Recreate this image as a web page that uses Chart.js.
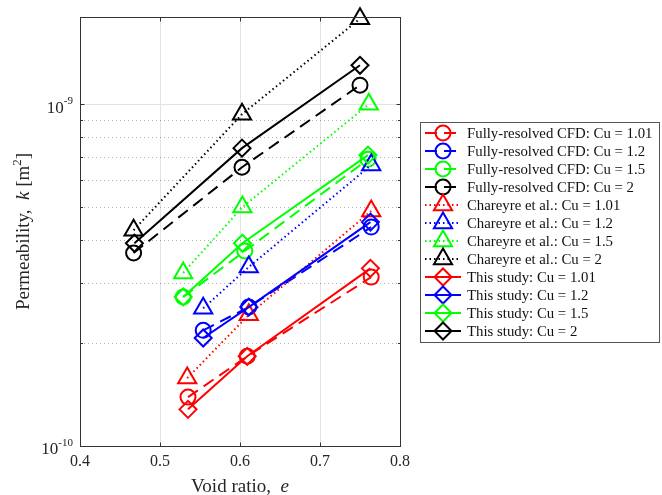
<!DOCTYPE html>
<html>
<head>
<meta charset="utf-8">
<script src="https://cdn.jsdelivr.net/npm/chart.js@4.4.0/dist/chart.umd.min.js"></script>
<style>
  html, body { margin: 0; padding: 0; background: #fff; }
  #wrap { width: 662px; height: 495px; }
</style>
</head>
<body>
<div id="wrap"><canvas id="permChart"></canvas></div>
<script>
// uniformity coefficients, in legend order
const cuLabels = ['1.01', '1.2', '1.5', '2'];

// void ratio e / permeability k [m2], one row per Cu
const cfdVoid = [[0.535, 0.609, 0.764], [0.554, 0.611, 0.764], [0.529, 0.606, 0.760], [0.467, 0.6025, 0.750]];
const cfdPerm = [[1.39e-10, 1.83e-10, 3.12e-10], [2.18e-10, 2.55e-10, 4.37e-10], [2.73e-10, 3.72e-10, 6.90e-10], [3.67e-10, 6.54e-10, 1.137e-9]];

const chareyreVoid = [[0.534, 0.611, 0.764], [0.554, 0.611, 0.764], [0.529, 0.603, 0.761], [0.467, 0.6025, 0.750]];
const chareyrePerm = [[1.58e-10, 2.42e-10, 4.87e-10], [2.53e-10, 3.34e-10, 6.64e-10], [3.21e-10, 5.00e-10, 1.00e-9], [4.28e-10, 9.35e-10, 1.78e-9]];

const studyVoid = [[0.535, 0.609, 0.763], [0.554, 0.611, 0.763], [0.529, 0.603, 0.760], [0.468, 0.6025, 0.750]];
const studyPerm = [[1.28e-10, 1.83e-10, 3.31e-10], [2.07e-10, 2.55e-10, 4.52e-10], [2.73e-10, 3.92e-10, 7.10e-10], [3.92e-10, 7.44e-10, 1.30e-9]];

// axes
const xTickValues = [0.4, 0.5, 0.6, 0.7, 0.8];
const xTickLabels = ['0.4', '0.5', '0.6', '0.7', '0.8'];
const yDecadeValues = [1e-10, 1e-9];
const yDecadeExponents = ['-10', '-9'];
const yMinorTicks = [2e-10, 3e-10, 4e-10, 5e-10, 6e-10, 7e-10, 8e-10, 9e-10];

const cuColors = ['#ff0000', '#0000ff', '#00ff00', '#000000'];
const serif = '"Liberation Serif", "Times New Roman", serif';

function makeSet(label, xs, ys, color, dash, style, radius) {
    return {
        label: label,
        data: xs.map((e, i) => ({ x: e, y: ys[i] })),
        borderColor: color,
        backgroundColor: 'rgba(0,0,0,0)',
        borderWidth: 2,
        borderDash: dash,
        pointStyle: style,
        pointRadius: radius,
        pointHoverRadius: radius,
        pointBorderWidth: 2,
        pointBorderColor: color,
        pointBackgroundColor: 'rgba(0,0,0,0)',
        fill: false,
        tension: 0,
        clip: false
    };
}

const datasets = [];
cuLabels.forEach((cu, i) => datasets.push(makeSet('Fully-resolved CFD: Cu = ' + cu, cfdVoid[i], cfdPerm[i], cuColors[i], [12, 7], 'circle', 7.5)));
cuLabels.forEach((cu, i) => datasets.push(makeSet('Chareyre et al.: Cu = ' + cu, chareyreVoid[i], chareyrePerm[i], cuColors[i], [1.5, 3], 'triangle', 10.5)));
cuLabels.forEach((cu, i) => datasets.push(makeSet('This study: Cu = ' + cu, studyVoid[i], studyPerm[i], cuColors[i], [], 'rectRot', 8.5)));
datasets.forEach((d, i) => { d.order = datasets.length - i; });

function hline(ctx, x1, x2, y) { ctx.beginPath(); ctx.moveTo(x1, y); ctx.lineTo(x2, y); ctx.stroke(); }
function vline(ctx, x, y1, y2) { ctx.beginPath(); ctx.moveTo(x, y1); ctx.lineTo(x, y2); ctx.stroke(); }

// grid, box, ticks and axis texts the MATLAB way
const axesFrame = {
    id: 'axesFrame',
    beforeDatasetsDraw(chart) {
        const { ctx, chartArea: a, scales: { x, y } } = chart;
        ctx.save();
        ctx.lineWidth = 1;
        ctx.strokeStyle = '#e3e3e3';
        xTickValues.slice(1, -1).forEach(v => vline(ctx, Math.round(x.getPixelForValue(v)) + 0.5, a.top, a.bottom));
        yDecadeValues.forEach(v => {
            const py = Math.round(y.getPixelForValue(v)) + 0.5;
            if (py > a.top + 1 && py < a.bottom - 1) hline(ctx, a.left, a.right, py);
        });
        ctx.strokeStyle = 'rgba(0,0,0,0.3)';
        ctx.setLineDash([1, 3]);
        yMinorTicks.forEach(v => hline(ctx, a.left, a.right, Math.round(y.getPixelForValue(v)) + 0.5));
        ctx.restore();
    },
    afterDatasetsDraw(chart) {
        const { ctx, chartArea: a, scales: { x, y } } = chart;
        ctx.save();
        ctx.strokeStyle = '#333';
        ctx.lineWidth = 1;
        const L = Math.round(a.left) + 0.5, R = Math.round(a.right) + 0.5;
        const T = Math.round(a.top) + 0.5, B = Math.round(a.bottom) + 0.5;
        ctx.strokeRect(L, T, R - L, B - T);
        // inward ticks on all four sides
        xTickValues.forEach(v => {
            const px = Math.round(x.getPixelForValue(v)) + 0.5;
            vline(ctx, px, B, B - 4);
            vline(ctx, px, T, T + 4);
        });
        yDecadeValues.forEach(v => {
            const py = Math.round(y.getPixelForValue(v)) + 0.5;
            hline(ctx, L, L + 4, py);
            hline(ctx, R, R - 4, py);
        });
        yMinorTicks.forEach(v => {
            const py = Math.round(y.getPixelForValue(v)) + 0.5;
            hline(ctx, L, L + 2.5, py);
            hline(ctx, R, R - 2.5, py);
        });

        ctx.fillStyle = '#262626';
        ctx.textBaseline = 'middle';
        ctx.textAlign = 'center';
        ctx.font = '16px ' + serif;
        xTickValues.forEach((v, i) => ctx.fillText(xTickLabels[i], x.getPixelForValue(v), a.bottom + 16));

        yDecadeValues.forEach((v, i) => {
            const py = y.getPixelForValue(v);
            ctx.font = '11px ' + serif;
            const supW = ctx.measureText(yDecadeExponents[i]).width;
            ctx.textAlign = 'left';
            ctx.fillText(yDecadeExponents[i], a.left - 7 - supW, py - 3);
            ctx.font = '17px ' + serif;
            ctx.textAlign = 'right';
            ctx.fillText('10', a.left - 7 - supW, py + 4);
        });

        // x title
        ctx.textBaseline = 'alphabetic';
        ctx.textAlign = 'left';
        const xt1 = 'Void ratio,  ';
        ctx.font = 'italic 19px ' + serif;
        const xt2W = ctx.measureText('e').width;
        ctx.font = '19px ' + serif;
        const xt1W = ctx.measureText(xt1).width;
        const xMid = (a.left + a.right) / 2;
        const sx = xMid - (xt1W + xt2W) / 2;
        ctx.fillText(xt1, sx, 492);
        ctx.font = 'italic 19px ' + serif;
        ctx.fillText('e', sx + xt1W, 492);

        // y title, rotated
        const parts = [
            { t: 'Permeability,  ', f: '19px ', dy: 0 },
            { t: 'k', f: 'italic 19px ', dy: 0 },
            { t: ' [m', f: '19px ', dy: 0 },
            { t: '2', f: '13px ', dy: -8 },
            { t: ']', f: '19px ', dy: 0 }
        ];
        let total = 0;
        parts.forEach(p => { ctx.font = p.f + serif; p.w = ctx.measureText(p.t).width; total += p.w; });
        ctx.translate(29, (a.top + a.bottom) / 2);
        ctx.rotate(-Math.PI / 2);
        let cx = -total / 2;
        parts.forEach(p => { ctx.font = p.f + serif; ctx.fillText(p.t, cx, p.dy); cx += p.w; });
        ctx.restore();
    },
    afterDraw(chart) {
        const ctx = chart.ctx;
        const boxL = 420.5, boxT = 122.5, boxR = 659.5, boxB = 342.5;
        ctx.save();
        ctx.fillStyle = '#fff';
        ctx.fillRect(boxL, boxT, boxR - boxL, boxB - boxT);
        ctx.strokeStyle = '#555';
        ctx.lineWidth = 1;
        ctx.strokeRect(boxL, boxT, boxR - boxL, boxB - boxT);
        chart.data.datasets.forEach((d, i) => {
            const yy = 133 + 18 * i;
            ctx.strokeStyle = d.borderColor;
            ctx.lineWidth = d.borderWidth;
            ctx.setLineDash(d.borderDash);
            hline(ctx, 425, 461, yy);
            ctx.setLineDash([]);
            ctx.fillStyle = 'rgba(0,0,0,0)';
            ctx.lineWidth = d.pointBorderWidth;
            Chart.helpers.drawPoint(ctx, { pointStyle: d.pointStyle, radius: d.pointRadius, rotation: 0, borderWidth: d.pointBorderWidth }, 443, yy);
            ctx.fillStyle = '#111';
            ctx.font = '14.8px ' + serif;
            ctx.textBaseline = 'middle';
            ctx.textAlign = 'left';
            ctx.fillText(d.label, 467, yy + 1);
        });
        ctx.restore();
    }
};

new Chart(document.getElementById('permChart'), {
    type: 'line',
    data: { datasets: datasets },
    options: {
        responsive: true,
        maintainAspectRatio: false,
        animation: false,
        layout: { padding: { left: 80, top: 17, right: 262, bottom: 49 } },
        plugins: { legend: { display: false }, tooltip: { enabled: false } },
        scales: {
            x: { type: 'linear', min: 0.4, max: 0.8, display: false },
            y: { type: 'logarithmic', min: 1e-10, max: 1.8e-9, display: false }
        }
    },
    plugins: [axesFrame]
});
</script>
</body>
</html>
